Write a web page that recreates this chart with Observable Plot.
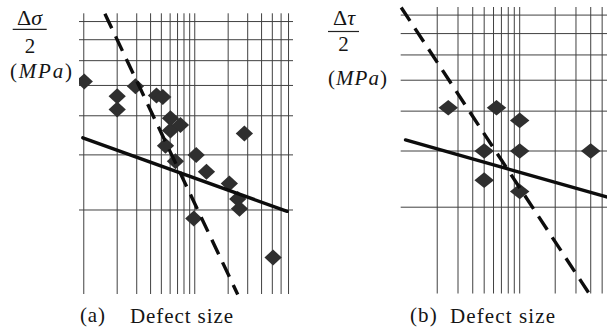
<!DOCTYPE html>
<html>
<head>
<meta charset="utf-8">
<script src="https://cdn.jsdelivr.net/npm/d3@7"></script>
<script src="https://cdn.jsdelivr.net/npm/@observablehq/plot@0.6"></script>
<style>
  html, body { margin: 0; padding: 0; background: #fff; }
  #wrap { position: relative; width: 607px; height: 329px; overflow: hidden; background: #fff; }
  #wrap > svg, #wrap > figure { position: absolute; top: 0; margin: 0; }
</style>
</head>
<body>
<div id="wrap"></div>
<script>
// ---------- data ----------
// panel (a): log-log grid values
const gridXA = [1, 2, 3, 4, 5, 6, 7, 8, 9, 10, 20, 30, 40, 50, 60, 70];
const gridYA = [2, 3, 4, 5, 6, 7, 8];
// panel (a): measured points (defect size, stress amplitude)
const defectA = [1.01, 2.0, 2.0, 2.92, 4.52, 5.15, 6.04, 6.04, 7.43, 5.45, 6.7, 10.3, 12.75, 9.8, 20.5, 24.4, 25.3, 28.0, 50.8];
const stressA = [5.15, 4.62, 4.19, 4.97, 4.64, 4.59, 3.93, 3.59, 3.74, 3.21, 2.86, 3.0, 2.65, 1.88, 2.43, 2.17, 2.02, 3.51, 1.41];
// panel (a): solid and dashed trend lines
const solidAx = [0.98, 68];
const solidAy = [3.40, 1.98];
const dashAx = [1.55, 24.4];
const dashAy = [8.47, 1.074];

// panel (b): log-log grid values
const gridXB = [2, 3, 4, 5, 6, 7, 8, 9, 10, 20, 30, 40, 50];
const gridYB = [2, 3, 4, 5, 6, 7, 8];
// panel (b): measured points
const defectB = [2.48, 6.36, 10, 5, 10, 40, 5, 10];
const stressB = [4.1, 4.1, 3.74, 3.0, 3.0, 3.0, 2.43, 2.24];
// panel (b): solid and dashed trend lines
const solidBx = [1.077, 55.5];
const solidBy = [3.25, 2.15];
const dashBx = [0.99, 39.3];
const dashBy = [8.45, 1.065];

// labels
const panelLabels = ["(a)", "(b)"];
const xTitle = "Defect size";
const yNumA = ["Δ", "σ"];
const yNumB = ["Δ", "τ"];
const yDen = "2";
const yUnit = ["(", "MPa", ")"];

// ---------- helpers ----------
const zip = (xs, ys) => xs.map((x, i) => ({x, y: ys[i]}));
function diamond(w, h) {
  return {
    draw(ctx, size) {
      const s = Math.sqrt(size / Math.PI);
      ctx.moveTo(0, -h * s);
      ctx.lineTo(w * s, 0);
      ctx.lineTo(0, h * s);
      ctx.lineTo(-w * s, 0);
      ctx.closePath();
    }
  };
}
const gridStyle = {stroke: "#404040", strokeWidth: 1, strokeOpacity: 1};
const lineInk = "#0d0d0d";
const dotInk = "#2f2f2f";

function panel(cfg) {
  return Plot.plot({
    width: cfg.width,
    height: 329,
    marginLeft: cfg.ml, marginRight: cfg.mr, marginTop: cfg.mt, marginBottom: cfg.mb,
    style: {background: "transparent", overflow: "visible"},
    x: {type: "log", domain: cfg.xdom, axis: null},
    y: {type: "log", domain: cfg.ydom, axis: null},
    marks: [
      Plot.ruleX(cfg.gx, gridStyle),
      Plot.ruleY(cfg.gy, gridStyle),
      Plot.dot(zip(cfg.px, cfg.py), {x: "x", y: "y", r: 8, symbol: cfg.sym, fill: dotInk, stroke: "none", clip: true}),
      Plot.line(zip(cfg.sx, cfg.sy), {x: "x", y: "y", stroke: lineInk, strokeWidth: 3.4}),
      Plot.line(zip(cfg.dx, cfg.dy), {x: "x", y: "y", stroke: lineInk, strokeWidth: 3.4, strokeDasharray: "16,9", strokeLinecap: "butt"})
    ]
  });
}

const wrap = document.getElementById("wrap");

const plotA = panel({
  width: 300, ml: 79, mr: 7, mt: 13.3, mb: 35,
  xdom: [0.915, 77.6], ydom: [1.074, 8.47],
  gx: gridXA, gy: gridYA,
  px: defectA, py: stressA, sym: diamond(1.08, 1.0),
  sx: solidAx, sy: solidAy, dx: dashAx, dy: dashAy
});
plotA.style.left = "0px";
wrap.appendChild(plotA);

const plotB = panel({
  width: 307, ml: 100.7, mr: 0, mt: 7, mb: 35.5,
  xdom: [0.99, 55.5], ydom: [1.069, 8.45],
  gx: gridXB, gy: gridYB,
  px: defectB, py: stressB, sym: diamond(1.22, 0.98),
  sx: solidBx, sy: solidBy, dx: dashBx, dy: dashBy
});
plotB.style.left = "300px";
wrap.appendChild(plotB);

// ---------- labels overlay ----------
const NS = "http://www.w3.org/2000/svg";
const ov = document.createElementNS(NS, "svg");
ov.setAttribute("width", 607);
ov.setAttribute("height", 329);
ov.style.left = "0px";
ov.setAttribute("font-family", "'Liberation Serif', 'DejaVu Serif', serif");
ov.setAttribute("fill", "#151515");
wrap.appendChild(ov);

function text(parts, x, y, size, opts = {}) {
  const t = document.createElementNS(NS, "text");
  t.setAttribute("x", x);
  t.setAttribute("y", y);
  t.setAttribute("font-size", size);
  if (opts.anchor) t.setAttribute("text-anchor", opts.anchor);
  if (opts.len) { t.setAttribute("textLength", opts.len); t.setAttribute("lengthAdjust", "spacing"); }
  for (const p of parts) {
    const s = document.createElementNS(NS, "tspan");
    s.textContent = p.t;
    if (p.i) s.setAttribute("font-style", "italic");
    t.appendChild(s);
  }
  ov.appendChild(t);
}
function bar(x1, x2, y) {
  const l = document.createElementNS(NS, "line");
  l.setAttribute("x1", x1); l.setAttribute("x2", x2);
  l.setAttribute("y1", y); l.setAttribute("y2", y);
  l.setAttribute("stroke", "#222"); l.setAttribute("stroke-width", 1.2);
  ov.appendChild(l);
}

// panel (a) y label
text([{t: yNumA[0]}, {t: yNumA[1], i: true}], 29.5, 25.3, 22, {anchor: "middle"});
bar(12.7, 46.7, 29.3);
text([{t: yDen}], 30, 52.5, 21, {anchor: "middle"});
text([{t: yUnit[0]}, {t: yUnit[1], i: true}, {t: yUnit[2]}], 10, 78, 21, {len: 62});
// panel (b) y label
text([{t: yNumB[0]}, {t: yNumB[1], i: true}], 344, 25.3, 22, {anchor: "middle"});
bar(328, 359, 31.5);
text([{t: yDen}], 343.5, 51, 21, {anchor: "middle"});
text([{t: yUnit[0]}, {t: yUnit[1], i: true}, {t: yUnit[2]}], 328, 84.5, 21, {len: 59});

// x titles
text([{t: panelLabels[0]}], 80, 321.5, 21, {len: 25});
text([{t: xTitle}], 130, 323.3, 21, {len: 103});
text([{t: panelLabels[1]}], 410, 321.5, 21, {len: 26.7});
text([{t: xTitle}], 450, 323.3, 21, {len: 105});
</script>
</body>
</html>
